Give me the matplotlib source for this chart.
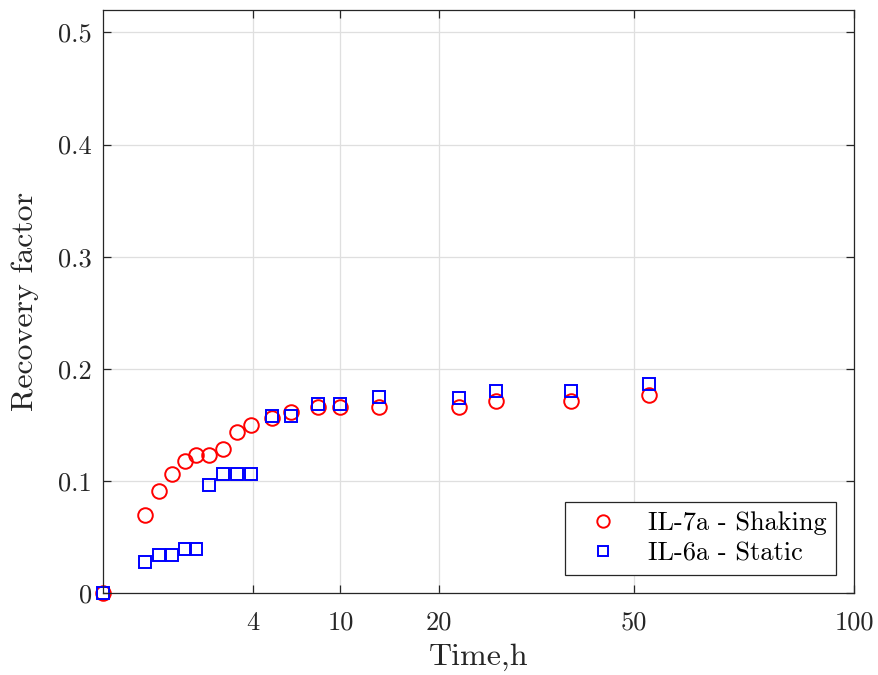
import numpy as np
import matplotlib
matplotlib.use("Agg")
import matplotlib.pyplot as plt

# data
time_h = [0, 0.31, 0.55, 0.84, 1.19, 1.52, 1.98, 2.54, 3.17, 3.86,
          5.04, 6.3, 8.23, 10.0, 13.5, 22.5, 27.4, 38.8, 52.8]
shaking = [0, 0.070, 0.091, 0.106, 0.118, 0.123, 0.123, 0.128, 0.144, 0.150,
           0.156, 0.161, 0.166, 0.166, 0.166, 0.166, 0.171, 0.171, 0.177]
static = [0, 0.028, 0.034, 0.034, 0.039, 0.039, 0.096, 0.106, 0.106, 0.106,
          0.158, 0.158, 0.169, 0.169, 0.175, 0.174, 0.180, 0.180, 0.186]

xticks = [4, 10, 20, 50, 100]
yticks = [0, 0.1, 0.2, 0.3, 0.4, 0.5]
ytick_labels = ['0', '0.1', '0.2', '0.3', '0.4', '0.5']

plt.rcParams['font.family'] = 'serif'
plt.rcParams['font.serif'] = ['cmr10']
plt.rcParams['axes.unicode_minus'] = False


def fwd(x):
    return np.sqrt(np.clip(x, 0, None))


def inv(x):
    return np.square(x)


fig = plt.figure(figsize=(8.79, 6.75), dpi=100)
ax = fig.add_axes([103 / 879, 1 - 593 / 675, (854 - 103) / 879, (593 - 10) / 675])

ax.plot(time_h, shaking, 'o', ms=10.5, mfc='none', mec='red', mew=1.4,
        label='IL-7a - Shaking', clip_on=False)
ax.plot(time_h, static, 's', ms=8.5, mfc='none', mec='blue', mew=1.4,
        label='IL-6a - Static', clip_on=False)

ax.set_xscale('function', functions=(fwd, inv))
ax.set_xlim(0, 100)
ax.set_ylim(0, 0.52)
ax.set_xticks(xticks)
ax.set_xticklabels([str(t) for t in xticks])
ax.set_yticks(yticks)
ax.set_yticklabels(ytick_labels)
ax.minorticks_off()

ax.grid(True, color='#dfdfdf', linewidth=0.9)
ax.set_axisbelow(True)
ax.tick_params(direction='in', top=True, right=True, length=6, width=0.9,
               colors='#262626', labelsize=19, labelcolor='#262626', pad=8)
ax.tick_params(axis='x', pad=13)
for s in ax.spines.values():
    s.set_color('#262626')
    s.set_linewidth(0.9)

ax.set_xlabel('Time,h', fontsize=23, color='#262626', labelpad=6)
ax.set_ylabel('Recovery factor', fontsize=23, color='#262626', labelpad=14)

leg = ax.legend(loc='lower right', fontsize=19, fancybox=False, framealpha=1,
                edgecolor='#262626', borderpad=0.35, handletextpad=0.6,
                borderaxespad=0.7, handlelength=2.2, labelspacing=0.25,
                markerscale=0.85)
leg.get_frame().set_linewidth(0.9)

fig.savefig('out.png', dpi=100)
